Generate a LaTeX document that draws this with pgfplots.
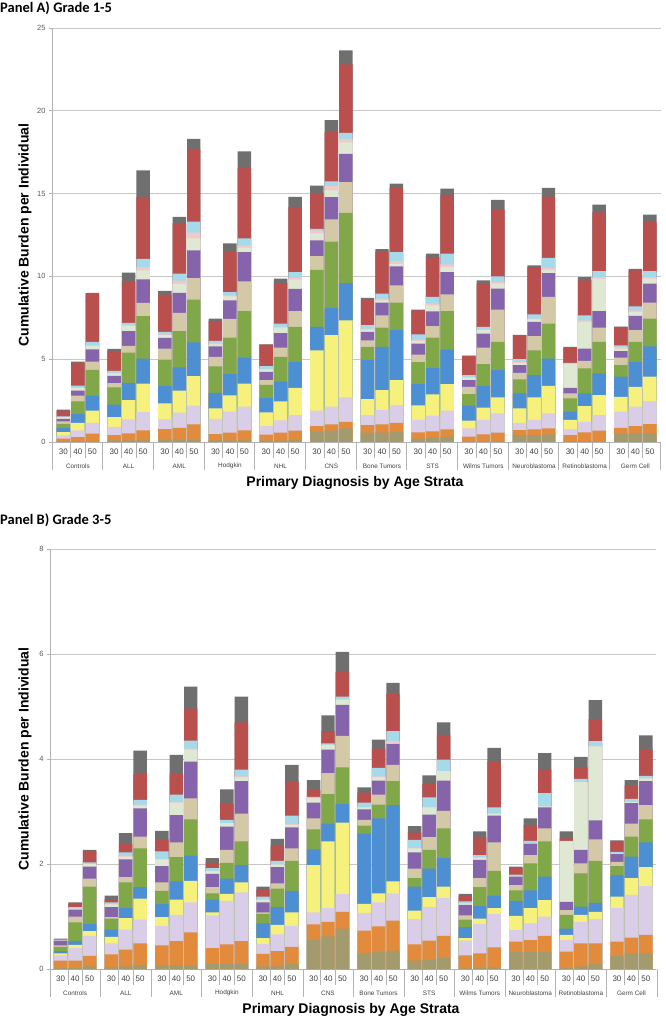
\documentclass[border=0pt]{standalone}
\usepackage{fontspec}
\setmainfont{Liberation Sans}
\newfontfamily\carlito{Carlito}
\usepackage{pgfplots}
\usepackage{pgfplotstable}
\pgfplotsset{compat=1.18}
\definecolor{c1}{HTML}{A39B6D}
\definecolor{c2}{HTML}{E38B3D}
\definecolor{c3}{HTML}{D9CDE8}
\definecolor{c4}{HTML}{F6F07D}
\definecolor{c5}{HTML}{4D8FD3}
\definecolor{c6}{HTML}{80A848}
\definecolor{c7}{HTML}{D4C9A7}
\definecolor{c8}{HTML}{8664AB}
\definecolor{c9}{HTML}{DFE8D2}
\definecolor{c10}{HTML}{F1C9C9}
\definecolor{c11}{HTML}{A4DAEA}
\definecolor{c12}{HTML}{B9504E}
\definecolor{c13}{HTML}{6F6F6F}

% cumulative tops of the segments (bottom to top)
\pgfplotstableread{
x c1 c2 c3 c4 c5 c6 c7 c8 c9 c10 c11 c12 c13
0 0.05 0.2 0.4 0.6 0.85 1.1 1.25 1.4 1.5 1.52 1.55 1.9 1.95
1 0.05 0.3 0.7 1.15 1.7 2.45 2.8 3.1 3.25 3.28 3.4 4.8 4.85
2 0.05 0.5 1.15 1.9 2.8 4.35 4.85 5.6 5.8 5.85 6.05 8.95 9.0
3.5 0.1 0.42 0.9 1.5 2.25 3.3 3.55 4.0 4.15 4.18 4.3 5.5 5.62
4.5 0.1 0.52 1.37 2.53 3.57 5.4 5.8 6.7 7.0 7.05 7.2 9.7 10.22
5.5 0.1 0.7 1.8 3.53 5.04 7.6 8.4 9.82 10.36 10.56 11.06 14.8 16.4
7 0.15 0.78 1.37 2.33 3.37 4.98 5.64 6.28 6.45 6.5 6.65 8.9 9.12
8 0.15 0.86 1.77 3.1 4.5 6.7 7.8 9.0 9.55 9.75 10.16 13.2 13.6
9 0.15 1.06 2.2 3.98 6.02 8.6 9.9 11.57 12.3 12.65 13.3 17.7 18.3
10.5 0.1 0.48 1.4 2.03 2.97 4.56 5.14 5.78 5.9 5.95 6.1 7.3 7.45
11.5 0.1 0.56 1.83 2.81 4.1 6.3 7.43 8.55 8.8 8.85 9.05 11.5 12.0
12.5 0.1 0.7 2.13 3.53 5.1 7.9 9.7 11.47 11.73 11.87 12.3 16.55 17.55
14 0.08 0.44 0.96 1.79 2.65 3.45 3.73 4.24 4.38 4.42 4.58 5.88 5.9
15 0.08 0.56 1.3 2.45 3.65 5.14 5.7 6.57 6.9 6.95 7.15 9.6 9.86
16 0.1 0.68 1.63 3.27 4.84 6.95 7.9 9.25 9.8 9.9 10.26 14.2 14.8
17.5 0.62 0.96 1.89 5.54 6.95 10.4 11.22 12.17 12.6 12.77 12.87 15.0 15.48
18.5 0.68 1.06 2.13 6.45 8.1 12.1 13.45 14.78 15.2 15.45 15.74 18.73 19.44
19.5 0.82 1.22 2.69 7.35 9.6 13.84 15.7 17.4 18.1 18.3 18.66 22.8 23.65
21 0.56 1.02 1.63 2.59 4.94 5.74 6.14 6.65 6.79 6.85 7.05 8.6 8.7
22 0.56 1.06 1.93 3.13 5.74 6.9 7.65 8.41 8.55 8.65 8.96 11.49 11.65
23 0.6 1.16 2.23 3.73 6.75 8.41 9.46 10.6 10.76 10.92 11.47 15.35 15.6
24.5 0.2 0.58 1.33 2.21 3.49 4.82 5.28 5.94 6.1 6.18 6.5 7.95 8.0
25.5 0.26 0.64 1.59 2.87 4.48 6.3 6.99 7.89 8.25 8.35 8.76 11.16 11.37
26.5 0.32 0.76 1.89 3.49 5.58 7.91 8.92 10.26 10.56 10.72 11.37 14.92 15.3
28 0.02 0.32 0.82 1.29 2.19 2.89 3.33 3.73 3.88 3.92 4.04 5.2 5.22
29 0.02 0.46 1.33 2.07 3.39 4.7 5.7 6.55 6.75 6.8 6.95 9.56 9.76
30 0.03 0.56 1.73 2.69 4.34 6.04 7.99 9.26 9.56 9.66 10.0 14.02 14.62
31.5 0.42 0.72 1.16 2.03 2.93 3.78 4.18 4.64 4.78 4.82 5.0 6.45 6.47
32.5 0.42 0.76 1.33 2.69 4.04 5.54 6.39 7.25 7.41 7.45 7.71 10.56 10.66
33.5 0.46 0.82 1.73 3.39 5.04 7.15 8.76 10.2 10.4 10.52 11.12 14.82 15.34
35 0.05 0.42 0.78 1.33 1.83 2.63 2.93 3.27 4.7 4.74 4.78 5.7 5.75
36 0.05 0.58 1.22 2.17 2.93 4.44 4.9 5.64 7.25 7.35 7.65 9.76 9.96
37 0.05 0.68 1.63 2.83 4.14 6.04 6.91 7.91 9.86 9.96 10.32 13.87 14.34
38.5 0.48 0.86 1.83 2.73 3.94 4.64 5.1 5.48 5.64 5.74 5.84 6.95 6.97
39.5 0.52 0.96 2.13 3.33 4.84 6.04 6.75 7.61 7.85 7.95 8.19 10.36 10.46
40.5 0.52 1.08 2.47 3.94 5.78 7.45 8.41 9.56 9.86 9.96 10.32 13.27 13.73
}\tabA

\pgfplotstableread{
x c1 c2 c3 c4 c5 c6 c7 c8 c9 c10 c11 c12 c13
0 0.02 0.16 0.26 0.3 0.34 0.42 0.45 0.54 0.55 0.55 0.56 0.57 0.58
1 0.02 0.16 0.4 0.46 0.53 0.89 1.0 1.13 1.15 1.15 1.18 1.25 1.27
2 0.05 0.25 0.63 0.72 0.86 1.57 1.72 1.95 2.0 2.0 2.03 2.25 2.27
3.5 0.03 0.28 0.49 0.61 0.75 0.96 0.99 1.18 1.23 1.23 1.27 1.33 1.4
4.5 0.05 0.37 0.75 0.97 1.16 1.65 1.75 2.09 2.14 2.15 2.22 2.38 2.59
5.5 0.08 0.49 0.94 1.34 1.56 2.3 2.52 3.06 3.11 3.13 3.22 3.71 4.16
7 0.07 0.45 0.82 0.99 1.24 1.49 1.65 1.96 2.09 2.1 2.24 2.47 2.63
8 0.07 0.53 1.03 1.32 1.67 2.13 2.41 2.93 3.17 3.18 3.32 3.72 4.08
9 0.07 0.7 1.27 1.68 2.16 2.85 3.25 3.95 4.18 4.2 4.35 4.96 5.38
10.5 0.1 0.4 1.02 1.08 1.32 1.44 1.56 1.81 1.87 1.87 1.92 2.02 2.11
11.5 0.1 0.47 1.3 1.43 1.72 2.02 2.27 2.71 2.78 2.78 2.84 3.15 3.42
12.5 0.1 0.53 1.46 1.65 1.98 2.43 2.96 3.58 3.65 3.67 3.8 4.7 5.19
14 0.05 0.29 0.48 0.59 0.87 1.05 1.08 1.27 1.32 1.32 1.38 1.51 1.57
15 0.05 0.34 0.66 0.84 1.18 1.53 1.63 1.94 1.99 1.99 2.06 2.35 2.48
16 0.1 0.42 0.82 1.08 1.49 2.06 2.3 2.7 2.74 2.76 2.92 3.57 3.89
17.5 0.56 0.85 1.08 1.98 2.28 2.66 2.87 3.17 3.25 3.26 3.28 3.41 3.6
18.5 0.62 0.9 1.16 2.43 2.77 3.33 3.73 4.18 4.27 4.27 4.3 4.53 4.83
19.5 0.77 1.09 1.43 2.79 3.14 3.84 4.44 5.03 5.13 5.13 5.19 5.66 6.04
21 0.3 0.73 1.07 1.24 2.58 2.73 2.84 3.04 3.08 3.08 3.17 3.36 3.46
22 0.32 0.81 1.27 1.44 2.87 3.13 3.32 3.59 3.65 3.67 3.83 4.2 4.37
23 0.35 0.92 1.44 1.67 3.12 3.58 3.89 4.29 4.3 4.34 4.53 5.24 5.45
24.5 0.16 0.47 0.95 1.11 1.57 1.73 1.91 2.22 2.3 2.3 2.46 2.6 2.72
25.5 0.18 0.54 1.18 1.37 1.91 2.27 2.51 2.94 3.08 3.08 3.27 3.53 3.69
26.5 0.21 0.63 1.35 1.57 2.11 2.68 3.01 3.59 3.77 3.77 3.99 4.46 4.7
28 0.01 0.26 0.54 0.59 0.8 0.94 1.02 1.22 1.25 1.25 1.29 1.4 1.43
29 0.02 0.3 0.86 0.96 1.2 1.56 1.73 2.08 2.12 2.12 2.17 2.51 2.62
30 0.03 0.41 1.05 1.16 1.4 1.87 2.41 2.92 2.96 2.96 3.08 3.96 4.21
31.5 0.33 0.52 0.74 1.01 1.3 1.5 1.6 1.76 1.77 1.77 1.8 1.92 1.95
32.5 0.32 0.55 0.87 1.16 1.5 2.01 2.17 2.39 2.4 2.4 2.44 2.74 2.87
33.5 0.32 0.63 1.0 1.31 1.76 2.43 2.68 3.08 3.1 3.1 3.35 3.8 4.11
35 0.02 0.33 0.55 0.65 0.77 1.03 1.12 1.28 2.43 2.43 2.44 2.49 2.62
36 0.05 0.49 0.9 1.03 1.19 1.82 2.01 2.27 3.56 3.56 3.62 3.84 4.04
37 0.1 0.49 0.95 1.09 1.26 2.06 2.47 2.83 4.24 4.24 4.34 4.76 5.12
38.5 0.25 0.52 1.16 1.38 1.79 1.96 2.04 2.19 2.2 2.2 2.23 2.44 2.45
39.5 0.3 0.6 1.41 1.73 2.14 2.52 2.77 3.16 3.18 3.18 3.24 3.5 3.6
40.5 0.3 0.65 1.58 1.94 2.41 2.85 3.12 3.58 3.63 3.63 3.68 4.19 4.45
}\tabB

\pgfplotsset{
  myaxis/.style={
    scale only axis, clip=false,
    axis x line=bottom, axis y line=left,
    axis line style={draw=gray!60, line width=0.6pt, -},
    xtick=\empty, ymin=0,
    ymajorgrids, grid style={gray!45, line width=0.6pt},
    ytick style={draw=gray!60, line width=0.6pt},
    tick align=outside, major tick length=3pt,
    yticklabel style={font=\fontsize{7.5}{8}\selectfont, text=gray!70!black},
    /pgf/number format/assume math mode=true,
  },
  seg/.style={ybar, bar width=0.93, bar shift=0pt, fill=#1, draw=none},
}
\tikzset{
  lab/.style={font=\fontsize{8}{9}\selectfont, text=black!75, inner sep=0pt},
  grp/.style={font=\fontsize{6.4}{7}\selectfont, text=black!75, inner sep=0pt},
  sep/.style={draw=gray!60, line width=0.6pt},
}

\newcommand{\bars}[1]{%
  \addplot[seg=c13] table[x=x,y=c13]{#1};
  \addplot[seg=c12] table[x=x,y=c12]{#1};
  \addplot[seg=c11] table[x=x,y=c11]{#1};
  \addplot[seg=c10] table[x=x,y=c10]{#1};
  \addplot[seg=c9] table[x=x,y=c9]{#1};
  \addplot[seg=c8] table[x=x,y=c8]{#1};
  \addplot[seg=c7] table[x=x,y=c7]{#1};
  \addplot[seg=c6] table[x=x,y=c6]{#1};
  \addplot[seg=c5] table[x=x,y=c5]{#1};
  \addplot[seg=c4] table[x=x,y=c4]{#1};
  \addplot[seg=c3] table[x=x,y=c3]{#1};
  \addplot[seg=c2] table[x=x,y=c2]{#1};
  \addplot[seg=c1] table[x=x,y=c1]{#1};
}
\newcommand{\groupnames}{%
  \node[grp] at (axis cs:1,0) [yshift=-24pt] {Controls};
  \node[grp] at (axis cs:4.5,0) [yshift=-24pt] {ALL};
  \node[grp] at (axis cs:8,0) [yshift=-24pt] {AML};
  \node[grp] at (axis cs:11.5,0) [yshift=-24pt] {Hodgkin};
  \node[grp] at (axis cs:15,0) [yshift=-24pt] {NHL};
  \node[grp] at (axis cs:18.5,0) [yshift=-24pt] {CNS};
  \node[grp] at (axis cs:22,0) [yshift=-24pt] {Bone Tumors};
  \node[grp] at (axis cs:25.5,0) [yshift=-24pt] {STS};
  \node[grp] at (axis cs:29,0) [yshift=-24pt] {Wilms Tumors};
  \node[grp] at (axis cs:32.5,0) [yshift=-24pt] {Neuroblastoma};
  \node[grp] at (axis cs:36,0) [yshift=-24pt] {Retinoblastoma};
  \node[grp] at (axis cs:39.5,0) [yshift=-24pt] {Germ Cell};
}

\begin{document}
\begin{tikzpicture}
\path[use as bounding box] (0pt,0pt) rectangle (666pt,1020pt);

% ---------- Panel A ----------
\begin{axis}[myaxis, at={(52pt,578pt)}, anchor=south west,
  width=609pt, height=414pt, xmin=-0.79, xmax=41.27, ymax=25,
  ytick={0,5,10,15,20,25}]
\bars{\tabA}
\pgfplotsinvokeforeach{0,...,11}{
  \node[lab] at (axis cs:{3.5*#1},0) [yshift=-10pt] {30};
  \node[lab] at (axis cs:{3.5*#1+1},0) [yshift=-10pt] {40};
  \node[lab] at (axis cs:{3.5*#1+2},0) [yshift=-10pt] {50};
  \draw[sep] (axis cs:{3.5*#1+0.5},0) -- ++(0pt,-16pt);
  \draw[sep] (axis cs:{3.5*#1+1.5},0) -- ++(0pt,-16pt);
}
\pgfplotsinvokeforeach{0,...,12}{
  \draw[sep] (axis cs:{-0.79+3.5*#1},0) -- ++(0pt,-28pt);
}
\groupnames
\end{axis}

% ---------- Panel B ----------
\begin{axis}[myaxis, at={(50pt,51pt)}, anchor=south west,
  width=606pt, height=420pt, xmin=-0.74, xmax=41.2, ymax=8,
  ytick={0,2,4,6,8}]
\bars{\tabB}
\pgfplotsinvokeforeach{0,...,11}{
  \node[lab] at (axis cs:{3.5*#1},0) [yshift=-10pt] {30};
  \node[lab] at (axis cs:{3.5*#1+1},0) [yshift=-10pt] {40};
  \node[lab] at (axis cs:{3.5*#1+2},0) [yshift=-10pt] {50};
  \draw[sep] (axis cs:{3.5*#1+0.5},0) -- ++(0pt,-16pt);
  \draw[sep] (axis cs:{3.5*#1+1.5},0) -- ++(0pt,-16pt);
}
\pgfplotsinvokeforeach{0,...,12}{
  \draw[sep] (axis cs:{-0.74+3.5*#1},0) -- ++(0pt,-28pt);
}
\groupnames
\end{axis}

% ---------- titles and labels ----------
\node[anchor=west, inner sep=0pt, font=\carlito\bfseries\fontsize{14.5}{16}\selectfont] at (0pt,1012pt) {Panel A) Grade 1-5};
\node[anchor=west, inner sep=0pt, font=\carlito\bfseries\fontsize{14.5}{16}\selectfont] at (0pt,500pt) {Panel B) Grade 3-5};
\node[rotate=90, inner sep=0pt, font=\bfseries\fontsize{14}{16}\selectfont] at (25pt,785pt) {Cumulative Burden per Individual};
\node[rotate=90, inner sep=0pt, font=\bfseries\fontsize{14}{16}\selectfont] at (25pt,261pt) {Cumulative Burden per Individual};
\node[inner sep=0pt, font=\bfseries\fontsize{14}{16}\selectfont] at (355pt,537pt) {Primary Diagnosis by Age Strata};
\node[inner sep=0pt, font=\bfseries\fontsize{14}{16}\selectfont] at (351pt,10pt) {Primary Diagnosis by Age Strata};
\end{tikzpicture}
\end{document}
